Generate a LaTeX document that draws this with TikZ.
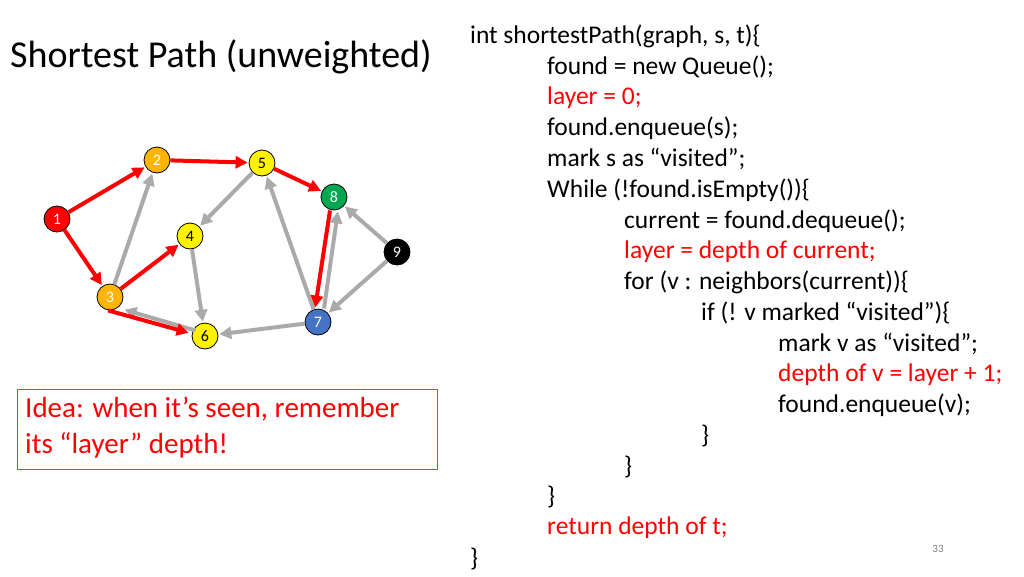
\documentclass[tikz,border=0pt]{standalone}
\usepackage{fontspec}
\setmainfont{Carlito}
\usetikzlibrary{arrows.meta}
\definecolor{myred}{RGB}{255,0,0}
\definecolor{myorange}{RGB}{255,180,0}
\definecolor{mygreen}{RGB}{0,166,80}
\definecolor{myblue}{RGB}{68,114,196}
\definecolor{mygray}{RGB}{170,170,170}
\begin{document}
\begin{tikzpicture}[x=1pt,y=-1pt,
 vtx/.style={circle,draw=black,line width=0.8pt,minimum size=26pt,inner sep=0pt,font=\fontsize{16}{16}\selectfont},
 redge/.style={draw=myred,line width=4pt,-{Triangle[length=12pt,width=12pt]},shorten >=1pt},
 gedge/.style={draw=mygray,line width=4pt,-{Triangle[length=12pt,width=12pt]},shorten >=1pt},
 code/.style={anchor=west,font=\fontsize{25.5}{25.5}\selectfont,inner sep=0pt},
 rcode/.style={code,text=myred}]
\useasboundingbox (0,0) rectangle (1024,576);
\node[anchor=west,inner sep=0pt,font=\fontsize{38}{38}\selectfont] (title) at (10,57) {Shortest Path (unweighted)};
\node[vtx,fill=myred,text=white] (n1) at (57,219) {1};
\node[vtx,fill=myorange,text=white] (n2) at (157,160) {2};
\node[vtx,fill=yellow] (n5) at (262,163) {5};
\node[vtx,fill=mygreen,text=white] (n8) at (334,197) {8};
\node[vtx,fill=yellow] (n4) at (190,236) {4};
\node[vtx,fill=black,text=white] (n9) at (397,252) {9};
\node[vtx,fill=myorange,text=white] (n3) at (110,297) {3};
\node[vtx,fill=yellow] (n6) at (205,336) {6};
\node[vtx,fill=myblue,text=white] (n7) at (318,322) {7};
\draw[gedge] (n3) -- (n2);
\draw[gedge] (n5) -- (n4);
\draw[gedge] (n4) -- (n6);
\draw[gedge] ([yshift=-4pt]n6.north west) -- ([xshift=4pt,yshift=-3pt]n3.south east);
\draw[gedge] (n7) -- (n6);
\draw[gedge] (n7) -- (n5);
\draw[gedge] ([xshift=6pt]n7.north) -- ([xshift=4pt]n8.south);
\draw[gedge] (n9) -- (n8);
\draw[gedge] (n9) -- (n7);
\draw[redge] (n1) -- (n2);
\draw[redge] (n1) -- (n3);
\draw[redge] (n2) -- (n5);
\draw[redge] (n5) -- (n8);
\draw[redge] ([xshift=-4pt]n8.south) -- ([xshift=-3pt]n7.north);
\draw[redge] (n3) -- (n4);
\draw[redge] ([xshift=-2pt]n3.south) -- ([xshift=-2pt,yshift=3pt]n6.west);
\node[draw=myred!80,line width=1pt,minimum width=420pt,minimum height=80pt,anchor=north west] (box) at (17,389) {};
\node[anchor=north west,text=myred,font=\fontsize{29}{36}\selectfont,align=left,inner sep=0pt] (idea) at (25,397) {Idea: when it’s seen, remember\\its “layer” depth!};
\node[code] (c1) at (470,36) {int shortestPath(graph, s, t)\{};
\node[code] (c2) at (547,67) {found = new Queue();};
\node[rcode] (c3) at (547,98) {layer = 0;};
\node[code] (c4) at (547,128) {found.enqueue(s);};
\node[code] (c5) at (547,159) {mark s as “visited”;};
\node[code] (c6) at (547,190) {While (!found.isEmpty())\{};
\node[code] (c7) at (624,221) {current = found.dequeue();};
\node[rcode] (c8) at (624,252) {layer = depth of current;};
\node[code] (c9) at (624,282) {for (v : neighbors(current))\{};
\node[code] (c10) at (701,313) {if (! v marked “visited”)\{};
\node[code] (c11) at (778,344) {mark v as “visited”;};
\node[rcode] (c12) at (778,375) {depth of v = layer + 1;};
\node[code] (c13) at (778,405) {found.enqueue(v);};
\node[code] (c14) at (701,436) {\}};
\node[code] (c15) at (624,467) {\}};
\node[code] (c16) at (547,497) {\}};
\node[rcode] (c17) at (547,528) {return depth of t;};
\node[code] (c18) at (470,559) {\}};
\node[font=\fontsize{11}{11}\selectfont,text=gray] (pg) at (938,549) {33};
\end{tikzpicture}
\end{document}
